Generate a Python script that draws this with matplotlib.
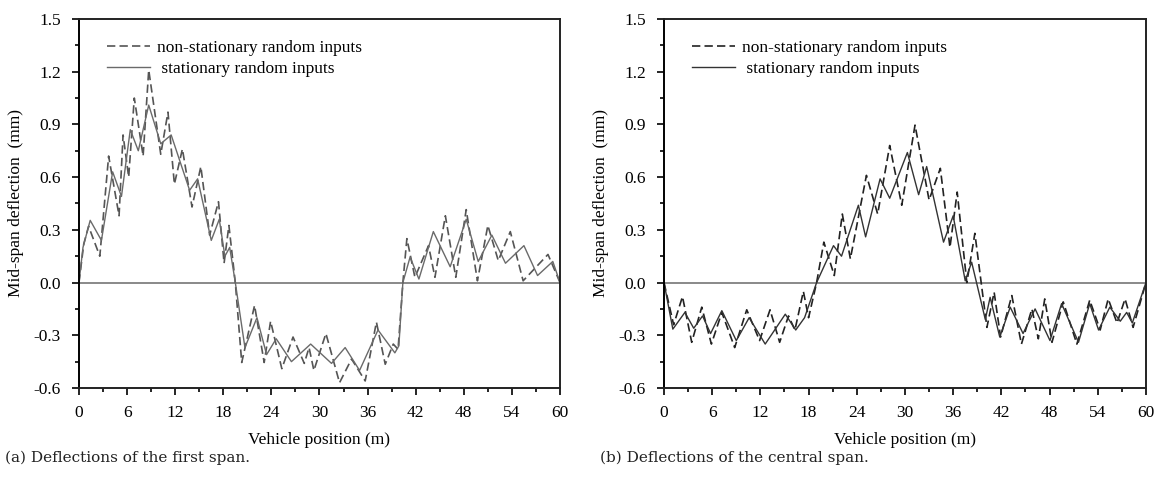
import matplotlib
matplotlib.use('Agg')
import matplotlib.pyplot as plt
from matplotlib.ticker import MultipleLocator

plt.rcParams['font.family'] = ['Liberation Serif', 'DejaVu Serif']

# (a) первый пролёт: нестационарные входы (штрих) и стационарные (сплошная)
a_x_ns = [0, 0.6, 1.2, 2.6, 3.7, 5.0, 5.5, 6.2, 6.9, 8.0, 8.7, 10.2, 11.1, 11.9, 12.9, 14.1,
          15.2, 16.3, 17.4, 18.1, 18.7, 19.5, 20.3, 21.9, 23.1, 23.9, 25.3, 26.7, 28.1, 28.7,
          29.3, 30.8, 32.5, 34.0, 35.7, 37.1, 38.2, 39.2, 39.8, 40.4, 40.9, 41.9, 43.6, 44.4,
          45.7, 47.0, 48.3, 49.7, 51.0, 52.3, 53.8, 55.4, 58.5, 60]
a_y_ns = [0, 0.22, 0.32, 0.15, 0.72, 0.38, 0.84, 0.60, 1.05, 0.72, 1.21, 0.73, 0.97, 0.56, 0.76, 0.43,
          0.66, 0.27, 0.46, 0.11, 0.325, 0.0, -0.455, -0.13, -0.455, -0.22, -0.49, -0.31, -0.46, -0.37,
          -0.50, -0.29, -0.57, -0.435, -0.56, -0.225, -0.465, -0.35, -0.38, 0.0, 0.25, 0.03, 0.21, 0.03,
          0.38, 0.03, 0.415, 0.01, 0.325, 0.125, 0.29, 0.01, 0.16, 0.0]
a_x_st = [0, 0.5, 1.4, 2.8, 4.2, 5.3, 6.4, 7.4, 8.7, 10.2, 11.5, 13.8, 14.8, 16.5, 17.5, 18.2,
          18.8, 19.5, 20.7, 22.2, 23.4, 24.6, 26.5, 28.9, 31.5, 33.2, 35.0, 37.3, 39.4, 39.9,
          40.4, 41.3, 42.4, 44.2, 46.3, 48.3, 49.8, 51.5, 53.2, 55.5, 57.2, 59.1, 60]
a_y_st = [0, 0.2, 0.354, 0.24, 0.63, 0.49, 0.87, 0.75, 1.01, 0.79, 0.84, 0.525, 0.59, 0.24, 0.36, 0.15,
          0.20, 0.0, -0.37, -0.2, -0.41, -0.32, -0.45, -0.35, -0.46, -0.37, -0.50, -0.27, -0.40, -0.36,
          0.0, 0.145, 0.02, 0.29, 0.09, 0.36, 0.12, 0.27, 0.11, 0.21, 0.04, 0.12, 0.0]

# (b) центральный пролёт
b_x_ns = [0, 1.2, 2.3, 3.45, 4.7, 5.9, 7.2, 8.8, 10.3, 11.9, 13.2, 14.4, 15.5, 16.3, 17.35, 18.0,
          19.0, 19.9, 21.2, 22.2, 23.2, 25.2, 26.6, 28.1, 29.6, 31.25, 33.0, 34.4, 35.6, 36.5,
          37.7, 38.7, 40.2, 41.1, 41.9, 43.3, 44.5, 45.8, 46.6, 47.4, 48.3, 49.7, 51.4, 53.0,
          54.3, 55.3, 56.4, 57.4, 58.4, 60]
b_y_ns = [0, -0.24, -0.08, -0.34, -0.14, -0.35, -0.17, -0.37, -0.155, -0.33, -0.155, -0.34, -0.19, -0.27, -0.05, -0.20,
          0.0, 0.23, 0.04, 0.39, 0.135, 0.61, 0.39, 0.78, 0.44, 0.896, 0.47, 0.65, 0.2, 0.515,
          0.0, 0.28, -0.255, -0.055, -0.31, -0.074, -0.35, -0.15, -0.32, -0.093, -0.34, -0.11, -0.35, -0.10,
          -0.27, -0.093, -0.23, -0.093, -0.255, 0.0]
b_x_st = [0, 1.1, 2.6, 3.7, 4.8, 5.8, 7.2, 9.0, 10.6, 12.6, 15.1, 16.4, 17.5, 19.0, 21.1, 22.1,
          24.2, 25.1, 26.9, 28.1, 30.3, 31.7, 32.7, 34.8, 36.0, 37.5, 38.3, 40.0, 40.6, 41.8,
          43.1, 44.7, 46.2, 48.05, 49.5, 51.6, 53.0, 54.1, 55.5, 56.8, 57.6, 58.3, 60]
b_y_st = [0, -0.265, -0.17, -0.26, -0.19, -0.29, -0.16, -0.33, -0.2, -0.35, -0.18, -0.27, -0.2, 0.0, 0.21, 0.15,
          0.44, 0.26, 0.59, 0.48, 0.74, 0.50, 0.66, 0.23, 0.38, 0.01, 0.116, -0.21, -0.084, -0.31,
          -0.14, -0.29, -0.15, -0.33, -0.12, -0.34, -0.12, -0.27, -0.14, -0.22, -0.17, -0.23, 0.0]

labels = ['non-stationary random inputs', ' stationary random inputs']
captions = ['(a) Deflections of the first span.', '(b) Deflections of the central span.']

fig = plt.figure(figsize=(11.58, 4.79), dpi=100)
ax1 = fig.add_axes([0.0682, 0.190, 0.4154, 0.7704])
ax2 = fig.add_axes([0.5734, 0.190, 0.4162, 0.7704])

panels = [(ax1, a_x_ns, a_y_ns, a_x_st, a_y_st, '#555555', '#6a6a6a'),
          (ax2, b_x_ns, b_y_ns, b_x_st, b_y_st, '#222222', '#333333')]

for ax, xn, yn, xs, ys, cn, cs in panels:
    ax.axhline(0, color='#808080', lw=1.3, zorder=1)
    ax.plot(xn, yn, color=cn, lw=1.2, dashes=(5, 2.5), label=labels[0], dash_joinstyle='round')
    ax.plot(xs, ys, color=cs, lw=1.0, label=labels[1], solid_joinstyle='round')
    ax.set_xlim(0, 60)
    ax.set_ylim(-0.6, 1.5)
    ax.xaxis.set_major_locator(MultipleLocator(6))
    ax.xaxis.set_minor_locator(MultipleLocator(3))
    ax.yaxis.set_major_locator(MultipleLocator(0.3))
    ax.yaxis.set_minor_locator(MultipleLocator(0.15))
    ax.yaxis.set_major_formatter(plt.FormatStrFormatter('%.1f'))
    ax.tick_params(which='both', direction='out', width=1.2, labelsize=12.5)
    ax.tick_params(axis='y', pad=8)
    ax.tick_params(axis='x', pad=7)
    ax.tick_params(which='major', length=5)
    ax.tick_params(which='minor', length=3)
    for s in ax.spines.values():
        s.set_linewidth(1.4)
        s.set_color('#222222')
    ax.spines['left'].set_color('black')
    ax.set_xlabel('Vehicle position (m)', fontsize=12.5, labelpad=8)
    ax.set_ylabel('Mid-span deflection  (mm)', fontsize=12.5, labelpad=7)
    ax.legend(loc='upper left', bbox_to_anchor=(0.025, 0.985), frameon=False, fontsize=12.5,
              handlelength=2.5, handletextpad=0.4, labelspacing=0.28)

fig.text(0.004, 0.035, captions[0], fontsize=11, family=['DejaVu Serif'], color='#222222')
fig.text(0.518, 0.035, captions[1], fontsize=11, family=['DejaVu Serif'], color='#222222')

fig.savefig('out.png', dpi=100)
